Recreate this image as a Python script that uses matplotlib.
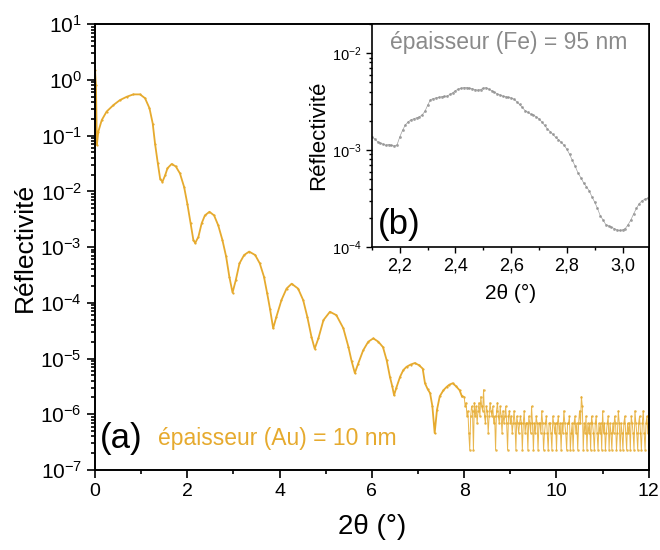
import numpy as np
import matplotlib
matplotlib.use('Agg')
import matplotlib.pyplot as plt
from matplotlib.ticker import LogLocator, MultipleLocator, FuncFormatter, NullFormatter

plt.rcParams['font.family'] = ['Liberation Sans', 'DejaVu Sans']
plt.rcParams['mathtext.fontset'] = 'custom'
plt.rcParams['mathtext.rm'] = 'Liberation Sans'
plt.rcParams['mathtext.default'] = 'regular'
plt.rcParams['axes.unicode_minus'] = False

# (a) Au 10 nm - smooth part
theta_au = [0.00, 0.02, 0.04, 0.07, 0.145, 0.25, 0.40, 0.54, 0.69, 0.83,
            0.975, 1.083, 1.18, 1.25, 1.30, 1.36, 1.41, 1.46, 1.52, 1.57,
            1.66, 1.75, 1.84, 1.93, 2.00, 2.07, 2.13, 2.17, 2.24, 2.31,
            2.38, 2.48, 2.58, 2.67, 2.76, 2.84, 2.91, 2.98, 3.05, 3.13,
            3.23, 3.34, 3.47, 3.57, 3.66, 3.73, 3.79, 3.86, 3.93, 4.04,
            4.15, 4.26, 4.40, 4.51, 4.60, 4.69, 4.76, 4.84, 4.95, 5.09,
            5.23, 5.38, 5.49, 5.56, 5.63, 5.70, 5.81, 5.92, 6.03, 6.14,
            6.24, 6.32, 6.39, 6.44, 6.48, 6.53, 6.61, 6.68, 6.75, 6.84,
            6.93, 7.02, 7.10, 7.15, 7.21, 7.26, 7.31, 7.36, 7.41, 7.47,
            7.55, 7.62, 7.68, 7.75, 7.82, 7.90, 7.95]
refl_au = [1.5, 0.8, 0.068, 0.117, 0.19, 0.27, 0.355, 0.435, 0.50, 0.55,
           0.55, 0.47, 0.31, 0.165, 0.072, 0.032, 0.017, 0.0148, 0.0195, 0.026,
           0.031, 0.028, 0.021, 0.012, 0.006, 0.0027, 0.00135, 0.00118, 0.00153, 0.00266,
           0.0037, 0.0043, 0.0037, 0.00245, 0.00134, 6.8e-4, 2.95e-4, 1.52e-4, 2.55e-4, 5.1e-4,
           7.2e-4, 8.3e-4, 7.2e-4, 5.1e-4, 2.95e-4, 1.48e-4, 7.9e-5, 3.5e-5, 5.6e-5, 1.12e-4,
           1.8e-4, 2.2e-4, 1.8e-4, 1.12e-4, 5.6e-5, 2.45e-5, 1.5e-5, 2.3e-5, 4.9e-5, 6.9e-5,
           6.0e-5, 3.5e-5, 1.63e-5, 9e-6, 5.5e-6, 8e-6, 1.4e-5, 2.0e-5, 2.3e-5, 2.0e-5,
           1.6e-5, 9.3e-6, 4.7e-6, 3.2e-6, 2.2e-6, 3.0e-6, 4.7e-6, 6.2e-6, 7.1e-6, 7.8e-6,
           8.3e-6, 7.6e-6, 6.6e-6, 3.6e-6, 2.8e-6, 2.4e-6, 1.4e-6, 4.6e-7, 1.2e-6, 2.1e-6,
           2.7e-6, 3.1e-6, 3.4e-6, 3.6e-6, 3.2e-6, 2.7e-6, 2.1e-6]

# noisy tail, 8 -> 12 deg, step 0.02, values in units of 1e-7
theta_tail = np.linspace(8.0, 12.0, 201)
refl_tail_1e7 = [20.7, 13.8, 16.1, 9.2, 11.5, 4.6, 2.3, 9.2, 13.8, 11.5,
                 2.3, 16.1, 9.2, 13.8, 6.9, 11.5, 16.1, 9.2, 20.7, 13.8,
                 11.5, 27.6, 9.2, 6.9, 13.8, 11.5, 4.6, 9.2, 16.1, 11.5,
                 9.2, 13.8, 6.9, 9.2, 2.3, 11.5, 16.1, 9.2, 6.9, 13.8,
                 9.2, 4.6, 11.5, 6.9, 9.2, 13.8, 6.9, 2.3, 9.2, 11.5,
                 6.9, 9.2, 4.6, 6.9, 11.5, 6.9, 2.3, 9.2, 6.9, 4.6,
                 6.9, 9.2, 6.9, 2.3, 6.9, 11.5, 4.6, 6.9, 6.9, 2.3,
                 9.2, 6.9, 4.6, 13.8, 6.9, 2.3, 6.9, 4.6, 9.2, 6.9,
                 2.3, 6.9, 6.9, 4.6, 11.5, 6.9, 2.3, 4.6, 6.9, 9.2,
                 4.6, 2.3, 6.9, 6.9, 4.6, 2.3, 9.2, 6.9, 4.6, 6.9,
                 2.3, 6.9, 9.2, 4.6, 6.9, 2.3, 6.9, 4.6, 11.5, 6.9,
                 4.6, 2.3, 6.9, 6.9, 9.2, 2.3, 4.6, 6.9, 2.3, 6.9,
                 9.2, 4.6, 6.9, 2.3, 6.9, 11.5, 6.9, 20.7, 13.8, 2.3,
                 6.9, 4.6, 9.2, 2.3, 6.9, 4.6, 6.9, 2.3, 9.2, 6.9,
                 4.6, 2.3, 6.9, 9.2, 4.6, 2.3, 6.9, 4.6, 6.9, 2.3,
                 11.5, 4.6, 6.9, 2.3, 4.6, 6.9, 9.2, 2.3, 6.9, 4.6,
                 2.3, 6.9, 4.6, 9.2, 6.9, 2.3, 4.6, 11.5, 6.9, 2.3,
                 6.9, 4.6, 2.3, 6.9, 9.2, 4.6, 2.3, 6.9, 4.6, 6.9,
                 2.3, 9.2, 6.9, 4.6, 2.3, 11.5, 6.9, 4.6, 2.3, 6.9,
                 9.2, 4.6, 2.3, 6.9, 11.5, 4.6, 2.3, 6.9, 9.2, 4.6,
                 6.9]

# (b) Fe 95 nm, step 0.01 deg from 2.10, values in units of 1e-3
theta_fe = np.linspace(2.10, 3.09, 100)
refl_fe_1e3 = [1.37, 1.30, 1.22, 1.18, 1.15, 1.12, 1.14, 1.12, 1.10, 1.13,
               1.37, 1.60, 1.82, 1.95, 2.05, 2.10, 2.15, 2.20, 2.30, 2.50,
               2.90, 3.30, 3.40, 3.45, 3.50, 3.55, 3.58, 3.60, 3.75, 3.90,
               4.10, 4.25, 4.35, 4.40, 4.40, 4.35, 4.30, 4.20, 4.15, 4.20,
               4.35, 4.40, 4.25, 4.10, 3.95, 3.80, 3.70, 3.60, 3.55, 3.50,
               3.45, 3.35, 3.15, 2.95, 2.75, 2.55, 2.45, 2.35, 2.30, 2.20,
               2.10, 1.95, 1.80, 1.65, 1.55, 1.45, 1.35, 1.28, 1.20, 1.12,
               1.02, 0.90, 0.78, 0.68, 0.58, 0.52, 0.46, 0.42, 0.38, 0.33,
               0.29, 0.25, 0.21, 0.19, 0.17, 0.165, 0.16, 0.155, 0.15, 0.148,
               0.15, 0.155, 0.17, 0.19, 0.22, 0.25, 0.28, 0.30, 0.31, 0.32]

orange = '#E6AA2E'
grey = '#8A8A8A'

fig = plt.figure(figsize=(6.6, 5.5), dpi=100)
ax = fig.add_axes([0.144, 0.1455, 0.839, 0.8105])

ax.plot(theta_au, refl_au, color=orange, lw=1.3, marker='o', ms=1.6, mew=0)
ax.plot(np.concatenate([[theta_au[-1]], theta_tail]),
        np.concatenate([[refl_au[-1]], np.array(refl_tail_1e7) * 1e-7]),
        color=orange, lw=0.7, alpha=0.85, marker='o', ms=1.8, mew=0)

ax.set_yscale('log')
ax.set_xlim(0, 12)
ax.set_ylim(1e-7, 10)
ax.xaxis.set_major_locator(MultipleLocator(2))
ax.xaxis.set_minor_locator(MultipleLocator(1))
ax.yaxis.set_major_locator(LogLocator(base=10, numticks=20))
ax.yaxis.set_minor_locator(LogLocator(base=10, subs=np.arange(2, 10), numticks=20))
ax.yaxis.set_minor_formatter(NullFormatter())
ax.tick_params(which='both', direction='out', top=False, right=False, width=1.2)
ax.tick_params(axis='y', labelsize=15)
ax.tick_params(axis='x', labelsize=14)
ax.tick_params(which='major', length=6)
ax.tick_params(which='minor', length=3)
for s in ax.spines.values():
    s.set_linewidth(1.4)
ax.set_xlabel('2θ (°)', fontsize=20, labelpad=10)
ax.set_ylabel('Réflectivité', fontsize=19, labelpad=2)

ax.text(0.1, 3.7e-7, '(a)', fontsize=25, va='center', ha='left')
ax.text(1.36, 3.7e-7, 'épaisseur (Au) = 10 nm', fontsize=16.5, color=orange, va='center', ha='left')

# inset
ins = fig.add_axes([0.5636, 0.551, 0.4197, 0.4055])
ins.plot(theta_fe, np.array(refl_fe_1e3) * 1e-3, color=grey, lw=0.5, alpha=0.8,
         marker='o', ms=2, mew=0)
ins.set_yscale('log')
ins.set_xlim(2.1, 3.095)
ins.set_ylim(1e-4, 2.0e-2)
ins.xaxis.set_major_locator(MultipleLocator(0.2))
ins.xaxis.set_minor_locator(MultipleLocator(0.1))
ins.xaxis.set_major_formatter(FuncFormatter(lambda v, p: f'{v:.1f}'.replace('.', ',')))
ins.yaxis.set_major_locator(LogLocator(base=10, numticks=10))
ins.yaxis.set_minor_locator(LogLocator(base=10, subs=np.arange(2, 10), numticks=10))
ins.yaxis.set_minor_formatter(NullFormatter())
ins.tick_params(which='both', direction='out', top=False, right=False, width=1)
ins.tick_params(axis='x', labelsize=13)
ins.tick_params(axis='y', labelsize=10.5)
ins.tick_params(which='major', length=4)
ins.tick_params(which='minor', length=2)
for s in ins.spines.values():
    s.set_linewidth(1.2)
ins.set_xlabel('2θ (°)', fontsize=15, labelpad=7)
ins.set_ylabel('Réflectivité', fontsize=16, labelpad=2)
ins.text(2.12, 1.7e-4, '(b)', fontsize=25, va='center', ha='left')
ins.text(2.165, 1.28e-2, 'épaisseur (Fe) = 95 nm', fontsize=16.5, color=grey, va='center', ha='left')

fig.savefig('out.png', dpi=100)
